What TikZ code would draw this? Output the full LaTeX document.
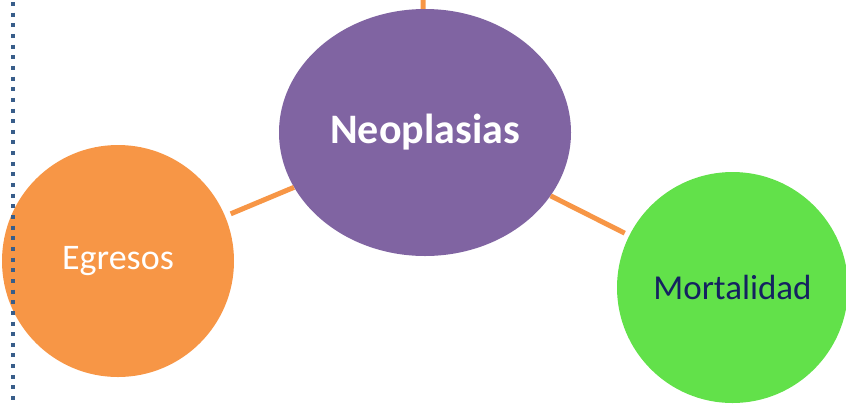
\documentclass[tikz,border=0pt]{standalone}
\usepackage{fontspec}
\setmainfont{Carlito}
\usetikzlibrary{shapes.geometric}
\definecolor{naranja}{RGB}{247,150,70}
\definecolor{morado}{RGB}{128,100,162}
\definecolor{verde}{RGB}{98,225,74}
\definecolor{azul}{RGB}{56,93,138}
\definecolor{marino}{RGB}{20,34,96}

\begin{document}
\begin{tikzpicture}[x=1pt,y=-1pt,every node/.style={circle,inner sep=0pt,minimum size=231pt},
                    enlace/.style={draw=naranja,line width=5pt}]
            \useasboundingbox (0,0) rectangle (846,405);

            \node [ellipse,fill=morado,minimum width=292pt,minimum height=247pt,text=white,
                   font=\bfseries\fontsize{42pt}{46pt}\selectfont] (neo) at (425,132.5) {Neoplasias};
            \node [fill=naranja,minimum size=232pt,text=white,
                   font=\fontsize{36pt}{40pt}\selectfont] (egr) at (118,261) {Egresos};
            \node [fill=verde,text=marino,
                   font=\fontsize{35pt}{39pt}\selectfont] (mor) at (732.5,287.5) {Mortalidad};

            \coordinate (arriba) at (423,0);

            \path (arriba) edge [enlace] (neo);
            \path (egr) edge [enlace,shorten <=6pt] (neo);
            \path (neo) edge [enlace,shorten >=5pt] (mor);

            % linea punteada a la izquierda, encima del circulo
            \coordinate (p1) at (13,2);
            \coordinate (p2) at (13,402);
            \path (p1) edge [draw=azul,line width=4pt,dash pattern=on 4pt off 6.65pt] (p2);
        \end{tikzpicture}
\end{document}
